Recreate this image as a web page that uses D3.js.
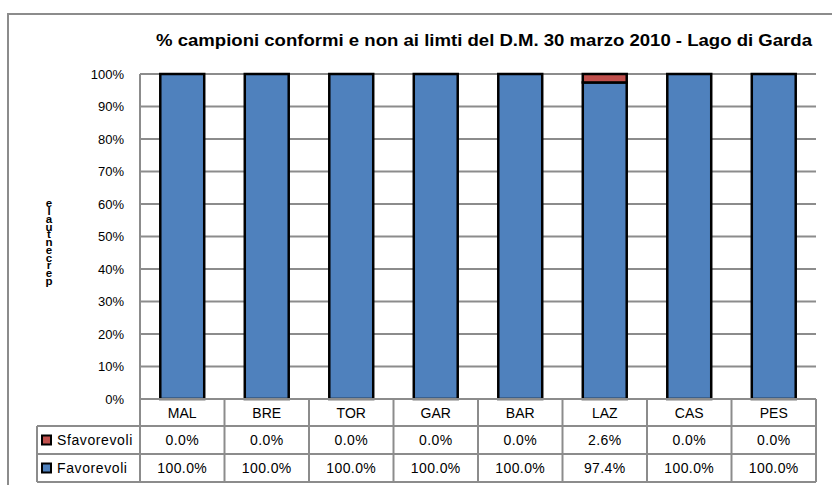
<!DOCTYPE html>
<html><head><meta charset="utf-8">
<script src="https://cdn.jsdelivr.net/npm/d3@7"></script>
<style>body{margin:0;background:#fff}svg{display:block}</style>
</head><body>
<svg id="c" width="832" height="485"></svg>
<script>
const categories = ["MAL","BRE","TOR","GAR","BAR","LAZ","CAS","PES"];
const favorevoli = [100.0,100.0,100.0,100.0,100.0,97.4,100.0,100.0];
const sfavorevoli = [0.0,0.0,0.0,0.0,0.0,2.6,0.0,0.0];
const yTicks = [0,10,20,30,40,50,60,70,80,90,100];
const seriesNames = ["Sfavorevoli","Favorevoli"];
const colors = {Favorevoli:"#4F81BD", Sfavorevoli:"#C0504D"};
const title = "% campioni conformi e non ai limti del D.M. 30 marzo 2010 - Lago di Garda";
const yLabel = "percentuale";

const svg = d3.select("#c");
const font = "'Liberation Sans', Arial, sans-serif";
const L = 140, R = 816, T = 74, B = 399;
const grid = "#8c8c8c";

// outer frame
svg.append("rect").attr("x",8).attr("y",14).attr("width",840).attr("height",480)
  .attr("fill","none").attr("stroke","#8c8c8c").attr("stroke-width",2);

const x = d3.scaleBand().domain(categories).range([L,R]).paddingInner(0.48).paddingOuter(0.24);
const y = d3.scaleLinear().domain([0,100]).range([B,T]);
const step = x.step();

// gridlines
svg.append("g").selectAll("line").data(yTicks).join("line")
  .attr("x1",L).attr("x2",R).attr("y1",d=>y(d)).attr("y2",d=>y(d))
  .attr("stroke",grid).attr("stroke-width",2);
svg.append("line").attr("x1",L).attr("x2",L).attr("y1",T).attr("y2",B).attr("stroke",grid).attr("stroke-width",2);

// y axis labels
const yAxis = d3.axisLeft(y).tickValues(yTicks).tickFormat(d=>d+"%").tickSize(0).tickPadding(16);
const ya = svg.append("g").attr("transform",`translate(${L},0)`).call(yAxis);
ya.select(".domain").remove();
ya.selectAll("text").attr("font-family",font).attr("font-size",13).attr("fill","#000");

// stacked bars
const rows = categories.map((c,i)=>({cat:c, Favorevoli:favorevoli[i], Sfavorevoli:sfavorevoli[i]}));
const stack = d3.stack().keys(["Favorevoli","Sfavorevoli"])(rows);
svg.append("g").selectAll("g").data(stack).join("g")
  .attr("fill",d=>colors[d.key])
  .selectAll("rect").data(d=>d.filter(p=>p[1]-p[0]>0)).join("rect")
  .attr("x",d=>x(d.data.cat)).attr("width",x.bandwidth())
  .attr("y",d=>y(d[1])).attr("height",d=>y(d[0])-y(d[1]))
  .attr("stroke","#000").attr("stroke-width",2.5);

// data table
const rowH = [B, 426, 454, 482];
const tg = svg.append("g");
const colX = categories.map(c=>x(c)-x.paddingOuter()*step);
categories.forEach((c,i)=>{
  tg.append("text").attr("x",colX[i]+step/2).attr("y",(rowH[0]+rowH[1])/2+5)
    .attr("text-anchor","middle").attr("font-family",font).attr("font-size",14).text(c);
});
const seriesVals = {Sfavorevoli:sfavorevoli, Favorevoli:favorevoli};
seriesNames.forEach((s,r)=>{
  const y0 = rowH[r+1], y1 = rowH[r+2];
  tg.append("rect").attr("x",42).attr("y",(y0+y1)/2-4.5).attr("width",9).attr("height",9)
    .attr("fill",colors[s]).attr("stroke","#000").attr("stroke-width",2);
  tg.append("text").attr("x",57).attr("y",(y0+y1)/2+5).attr("font-family",font).attr("font-size",14)
    .attr("letter-spacing",0.6).text(s);
  seriesVals[s].forEach((v,i)=>{
    tg.append("text").attr("x",colX[i]+step/2).attr("y",(y0+y1)/2+5)
      .attr("text-anchor","middle").attr("font-family",font).attr("font-size",14)
      .attr("letter-spacing",0.4).text(v.toFixed(1)+"%");
  });
});
const tl = tg.append("g").attr("stroke",grid).attr("stroke-width",2);
rowH.forEach((yy,k)=>{
  tl.append("line").attr("x1",k===0?L:37).attr("x2",R).attr("y1",yy).attr("y2",yy);
});
tl.append("line").attr("x1",37).attr("x2",37).attr("y1",rowH[1]).attr("y2",rowH[3]);
colX.concat([R]).forEach(xx=>{
  tl.append("line").attr("x1",xx).attr("x2",xx).attr("y1",rowH[0]).attr("y2",rowH[3]);
});

// title
svg.append("text").attr("x",156).attr("y",46).attr("font-family",font)
  .attr("font-weight","bold").attr("font-size",16).text(title)
  .attr("textLength",656).attr("lengthAdjust","spacingAndGlyphs");

// y label: letters stacked upright (reads bottom-to-top like the reference)
svg.append("g").attr("transform","translate(49,198) scale(1.1,0.98)")
  .append("text").attr("x",0).attr("y",0)
  .attr("font-family",font).attr("font-weight","bold").attr("font-size",10.5)
  .style("writing-mode","vertical-rl").style("text-orientation","upright")
  .style("letter-spacing","-3.6px")
  .text(yLabel.split("").reverse().join(""));
</script>
</body></html>
